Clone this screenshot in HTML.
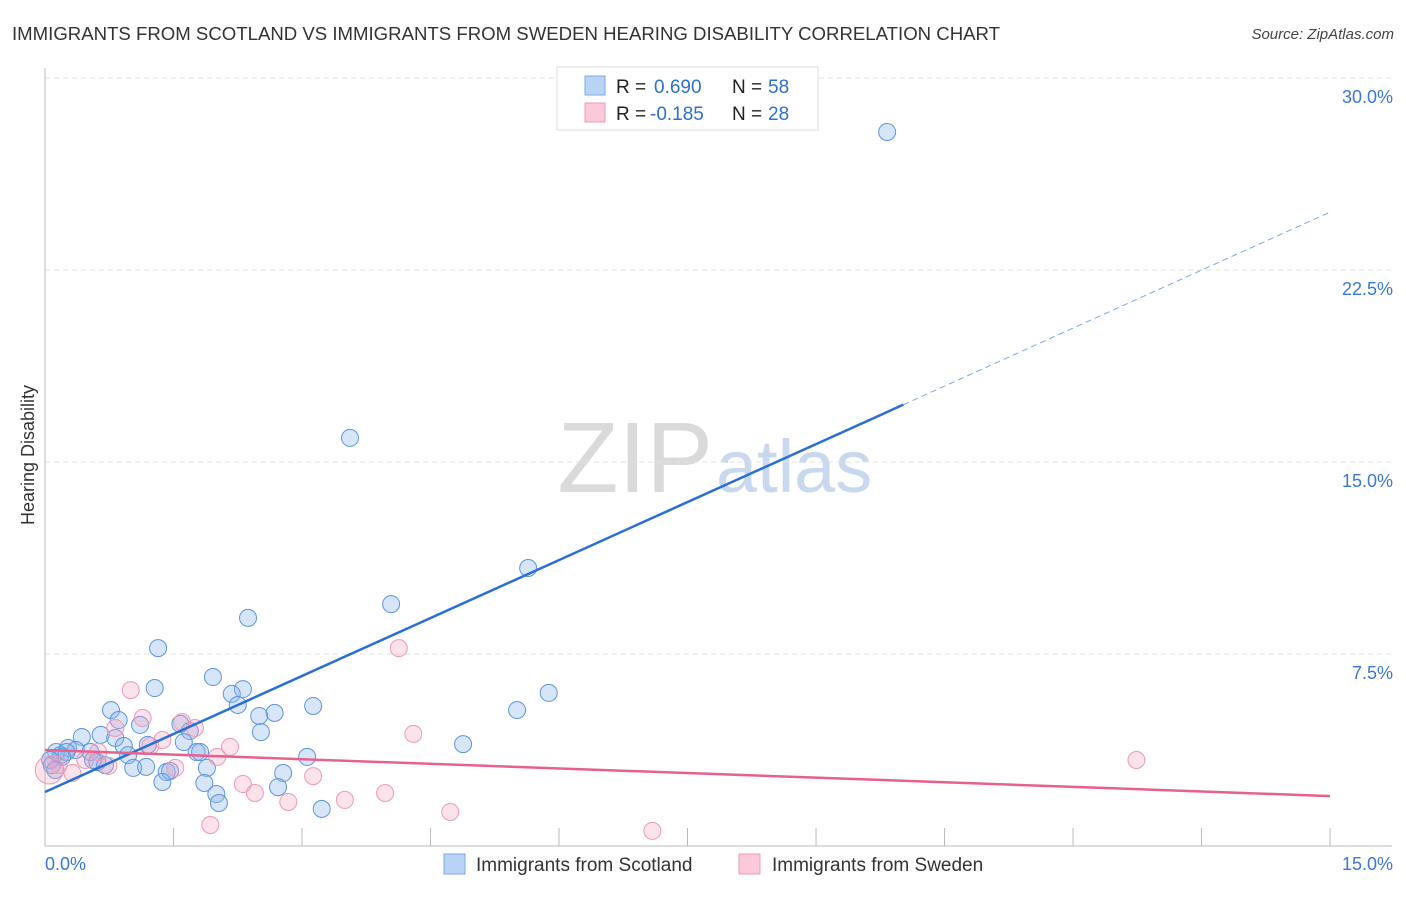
<!DOCTYPE html>
<html><head><meta charset="utf-8"><style>
body{margin:0;background:#fff;font-family:"Liberation Sans",sans-serif;}
svg text{font-family:"Liberation Sans",sans-serif;}
</style></head><body>
<svg id="chart" width="1406" height="892" xmlns="http://www.w3.org/2000/svg">
<text x="12" y="40" font-size="18" fill="#333" textLength="988" lengthAdjust="spacingAndGlyphs">IMMIGRANTS FROM SCOTLAND VS IMMIGRANTS FROM SWEDEN HEARING DISABILITY CORRELATION CHART</text>
<text x="1394" y="39" font-size="15" fill="#444" font-style="italic" text-anchor="end">Source: ZipAtlas.com</text>
<text x="713" y="492" font-size="100" fill="#dadada" text-anchor="end" font-family="Liberation Serif">ZIP</text>
<text x="716" y="492" font-size="74" fill="#c8d8ee">atlas</text>
<g id="grid"></g>
<g id="axes"></g>
<g id="marks"></g>
<text x="34" y="455" font-size="18" fill="#333" text-anchor="middle" transform="rotate(-90 34 455)">Hearing Disability</text>
<g>
<rect x="557" y="67" width="261" height="63" fill="#fff" stroke="#ddd"/>
<rect x="585" y="76" width="20" height="19" fill="#b9d3f5" stroke="#7aa8e6"/>
<rect x="585" y="103" width="20" height="19" fill="#fcc9d8" stroke="#f09ab4"/>
<text x="616" y="93" font-size="19" fill="#222">R =</text><text x="654" y="93" font-size="19" fill="#2d6fd2">0.690</text>
<text x="732" y="93" font-size="19" fill="#222">N =</text><text x="768" y="93" font-size="19" fill="#2d6fd2">58</text>
<text x="616" y="120" font-size="19" fill="#222">R =</text><text x="650" y="120" font-size="19" fill="#2d6fd2">-0.185</text>
<text x="732" y="120" font-size="19" fill="#222">N =</text><text x="768" y="120" font-size="19" fill="#2d6fd2">28</text>
</g>
<g>
<rect x="444" y="854" width="21" height="20" fill="#b9d3f5" stroke="#7aa8e6"/>
<text x="476" y="871" font-size="19" fill="#333">Immigrants from Scotland</text>
<rect x="739" y="854" width="21" height="20" fill="#fcc9d8" stroke="#f09ab4"/>
<text x="772" y="871" font-size="19" fill="#333">Immigrants from Sweden</text>
</g>
</svg>
<script>
const yTicks=[7.5,15,22.5,30];
const yTickLabels=["7.5%","15.0%","22.5%","30.0%"];
const xTickCount=10;
const scotlandX=[9.83,3.56,5.64,4.04,2.37,1.32,1.28,1.96,2.31,2.18,2.25,5.88,5.51,3.13,2.68,2.50,2.52,0.77,0.86,1.11,1.58,1.69,0.65,0.43,0.82,1.62,4.88,0.92,1.20,0.27,0.36,0.13,0.18,0.53,0.20,0.97,1.77,1.81,3.06,0.06,0.61,0.70,1.03,1.18,1.89,1.42,1.46,2.78,1.37,1.86,2.72,2.00,2.03,3.23,0.08,0.25,0.56,0.12];
const scotlandY=[27.89,15.94,10.86,9.45,8.91,7.73,6.17,6.60,6.13,5.94,5.51,5.98,5.31,5.47,5.20,5.08,4.45,5.31,4.92,4.73,4.77,4.49,4.34,4.26,4.22,4.06,3.98,3.91,3.95,3.83,3.75,3.67,3.55,3.67,3.48,3.55,3.67,3.67,3.48,3.36,3.28,3.16,3.05,3.09,3.05,2.89,2.93,2.85,2.50,2.46,2.30,2.03,1.68,1.45,3.16,3.67,3.36,2.97];
const swedenX=[1.00,1.14,1.60,1.75,0.82,1.37,1.23,2.16,2.01,0.62,0.47,0.16,0.32,0.74,1.52,0.05,3.13,2.31,2.45,2.84,3.50,3.97,4.13,4.30,4.73,1.93,7.09,12.74];
const swedenY=[6.09,5.00,4.84,4.61,4.61,4.14,3.91,3.87,3.48,3.67,3.36,3.16,2.85,3.13,3.05,2.97,2.73,2.42,2.07,1.72,1.80,2.07,7.73,4.38,1.33,0.82,0.59,3.36];
const scotlandTrend=[2.11,1.51]; // intercept, slope
const swedenTrend=[3.75,-0.12];
const X=v=>45+v*85.67, Y=v=>846-v*25.6;
const NS="http://www.w3.org/2000/svg";
function mk(tag,parent,attrs){const e=document.createElementNS(NS,tag);for(const k in attrs)e.setAttribute(k,attrs[k]);document.getElementById(parent).appendChild(e);return e;}
yTicks.forEach((t,i)=>{
 const g=mk('line','grid',{x1:45,x2:1392,y1:Y(t),y2:Y(t),stroke:'#e2e2e2','stroke-dasharray':'5,4'});
 
 
 const l=mk('text','axes',{x:1393,y:Y(t)+25,'font-size':18,fill:'#3a78d6','text-anchor':'end'});
 l.textContent=yTickLabels[i];
 
 
});
const ax=mk('line','axes',{x1:45,x2:45,y1:68,y2:846,stroke:'#bbb'});


const bx=mk('line','axes',{x1:45,x2:1392,y1:846,y2:846,stroke:'#bbb'});


for(let i=1;i<=xTickCount;i++){const t=mk('line','axes',{x1:X(i*1.5),x2:X(i*1.5),y1:828,y2:846,stroke:'#bbb'});
 
 }
[["0.0%",45,'start'],["15.0%",1393,'end']].forEach(a=>{const l=mk('text','axes',{x:a[1],y:870,'font-size':18,fill:'#3a78d6','text-anchor':a[2]});l.textContent=a[0];
 
 });
scotlandX.forEach((x,i)=>{const c=mk('circle','marks',{cx:X(x),cy:Y(scotlandY[i]),r:8.5,fill:'rgba(140,180,235,0.35)',stroke:'#5b95e0','stroke-width':1});
 
 });
swedenX.forEach((x,i)=>{const c=mk('circle','marks',{cx:X(x),cy:Y(swedenY[i]),r:i==15?14:8.5,fill:'rgba(245,160,190,0.3)',stroke:'#ee9ab5','stroke-width':1});
 
 });
const f=(t,x)=>t[0]+t[1]*x;
const l1=mk('line','marks',{x1:X(0),y1:Y(f(scotlandTrend,0)),x2:X(10.02),y2:Y(f(scotlandTrend,10.02)),stroke:'#2a6fd6','stroke-width':2.5});


const l2=mk('line','marks',{x1:X(10.02),y1:Y(f(scotlandTrend,10.02)),x2:X(15),y2:Y(f(scotlandTrend,15)),stroke:'#7aa8e6','stroke-width':1,'stroke-dasharray':'6,4'});


const l3=mk('line','marks',{x1:X(0),y1:Y(f(swedenTrend,0)),x2:X(15),y2:Y(f(swedenTrend,15)),stroke:'#e8608e','stroke-width':2.5});


</script>
</body></html>
